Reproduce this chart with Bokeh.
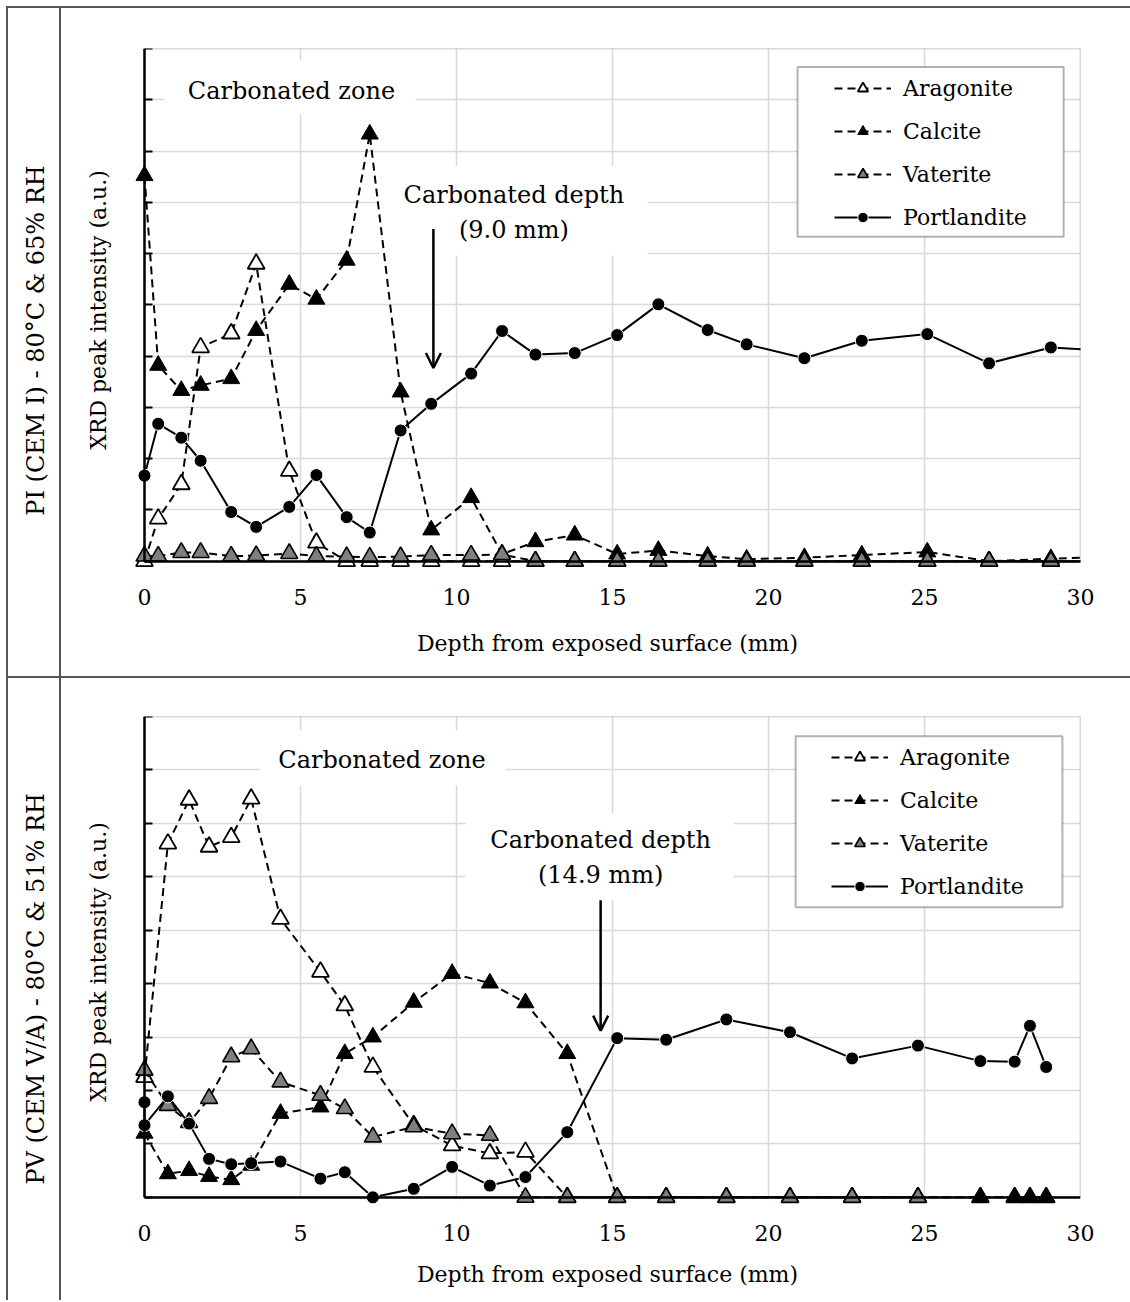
import math
from bokeh.plotting import figure
from bokeh.models import (Range1d, FixedTicker, Legend, LegendItem, BoxAnnotation,
                          Label, Arrow, OpenHead, Spacer, LinearAxis)
from bokeh.layouts import column, row
from bokeh.embed import file_html
from bokeh.resources import INLINE

FONT = "DejaVu Serif"
X_TICKS = [0, 5, 10, 15, 20, 25, 30]
SERIES = ["Aragonite", "Calcite", "Vaterite", "Portlandite"]

# ---------------- PI (CEM I) - 80°C & 65% RH ----------------
pi_depth = [0, 0.44, 1.18, 1.80, 2.78, 3.58, 4.64, 5.51, 6.48, 7.22, 8.21, 9.19, 10.47,
            11.46, 12.53, 13.79, 15.15, 16.47, 18.05, 19.30, 21.15, 22.99, 25.09, 27.07,
            29.05, 30.5]
pi_aragonite = [0, 0.83, 1.50, 4.17, 4.44, 5.80, 1.76, 0.36, 0, 0, 0, 0, 0,
                0, 0, 0, 0, 0, 0, 0, 0, 0, 0, 0, 0, 0]
pi_calcite = [7.52, 3.82, 3.33, 3.43, 3.56, 4.50, 5.40, 5.11, 5.87, 8.33, 3.30, 0.61, 1.24,
              0.14, 0.38, 0.51, 0.14, 0.21, 0.10, 0.04, 0.07, 0.12, 0.18, 0.00, 0.05, 0.08]
pi_vaterite = [0.10, 0.10, 0.17, 0.17, 0.10, 0.11, 0.15, 0.10, 0.09, 0.08, 0.09, 0.12, 0.12,
               0.13, 0, 0, 0, 0, 0, 0, 0, 0, 0, 0, 0, 0]
pi_portlandite = [1.67, 2.68, 2.41, 1.96, 0.96, 0.67, 1.06, 1.68, 0.86, 0.56, 2.55, 3.07, 3.66,
                  4.49, 4.03, 4.06, 4.41, 5.01, 4.51, 4.23, 3.96, 4.30, 4.43, 3.86, 4.17, 4.12]

# ---------------- PV (CEM V/A) - 80°C & 51% RH ----------------
pv_depth = [0, 0.75, 1.43, 2.07, 2.78, 3.42, 4.36, 5.64, 6.42, 7.32, 8.63, 9.86, 11.07,
            12.21, 13.55, 15.15, 16.72, 18.65, 20.69, 22.68, 24.79, 26.79, 27.89, 28.38, 28.90]
pv_aragonite = [2.25, 6.62, 7.44, 6.56, 6.74, 7.46, 5.21, 4.22, 3.59, 2.44, 1.35, 0.97, 0.82,
                0.85, 0, 0, 0, 0, 0, 0, 0, 0, 0, 0, 0]
pv_calcite = [1.20, 0.44, 0.50, 0.39, 0.33, 0.60, 1.57, 1.69, 2.69, 3.00, 3.65, 4.19, 4.01,
              3.64, 2.69, 0, 0, 0, 0, 0, 0, 0, 0, 0, 0]
pv_vaterite_depth = [0, 0.75, 1.43, 2.07, 2.78, 3.42, 4.36, 5.64, 6.42, 7.32, 8.63, 9.86,
                     11.07, 12.21, 13.55, 15.15, 16.72, 18.65, 20.69, 22.68, 24.79]
pv_vaterite = [2.38, 1.72, 1.40, 1.85, 2.63, 2.78, 2.16, 1.91, 1.66, 1.13, 1.32, 1.19, 1.16,
               0, 0, 0, 0, 0, 0, 0, 0]
pv_portlandite_depth = [0, 0, 0.75, 1.43, 2.07, 2.78, 3.42, 4.36, 5.64, 6.42, 7.32, 8.63, 9.86,
                        11.07, 12.21, 13.55, 15.15, 16.72, 18.65, 20.69, 22.68, 24.79, 26.79,
                        27.89, 28.38, 28.90]
pv_portlandite = [1.78, 1.35, 1.89, 1.38, 0.72, 0.62, 0.64, 0.67, 0.35, 0.47, 0.00, 0.16, 0.57,
                  0.22, 0.38, 1.22, 2.98, 2.95, 3.33, 3.09, 2.60, 2.84, 2.55, 2.54, 3.21, 2.44]

row_labels = ["PI (CEM I) - 80°C & 65% RH", "PV (CEM V/A) - 80°C & 51% RH"]
depth_texts = ["(9.0 mm)", "(14.9 mm)"]


def make_chart(height, ymax, ext_y, border_top, border_bottom, data, cfg):
    p = figure(width=1069, height=height, output_backend="svg", toolbar_location=None,
               x_range=Range1d(-0.32, 30), y_range=Range1d(-ext_y, ymax),
               min_border_left=73, min_border_right=50,
               min_border_top=border_top, min_border_bottom=border_bottom)
    p.background_fill_color = "white"
    p.border_fill_color = "white"
    p.outline_line_color = None
    y_ticks = list(range(ymax + 1))

    # grid
    p.xgrid.ticker = FixedTicker(ticks=X_TICKS)
    p.ygrid.ticker = FixedTicker(ticks=y_ticks)
    for g in (p.xgrid, p.ygrid):
        g.grid_line_color = "#d9d9d9"
        g.grid_line_width = 1.5

    # white strips outside the data area (markers may overflow there)
    p.add_layout(BoxAnnotation(right=0, fill_color="white", fill_alpha=1, line_alpha=0,
                               level="underlay"))
    p.add_layout(BoxAnnotation(top=0, fill_color="white", fill_alpha=1, line_alpha=0,
                               level="underlay"))
    # frame border
    p.add_layout(BoxAnnotation(left=0, right=30, bottom=0, top=ymax, fill_alpha=0,
                               line_color="black", line_width=1.5, level="underlay"))
    # white boxes behind the annotation texts
    for (l, r, b, t) in cfg["boxes"]:
        p.add_layout(BoxAnnotation(left=l, right=r, bottom=b, top=t, fill_color="white",
                                   fill_alpha=1, line_alpha=0, level="underlay"))
    # legend frame
    l, r, b, t = cfg["legend_box"]
    p.add_layout(BoxAnnotation(left=l, right=r, bottom=b, top=t, fill_color="white",
                               fill_alpha=1, line_color="black", line_width=2,
                               level="underlay"))

    # label axes (at the frame edge)
    p.xaxis.ticker = FixedTicker(ticks=X_TICKS)
    p.yaxis.ticker = FixedTicker(ticks=y_ticks)
    for ax in (p.xaxis, p.yaxis):
        ax.axis_line_color = None
        ax.major_tick_line_color = None
        ax.minor_tick_line_color = None
        ax.major_tick_in = 0
        ax.major_tick_out = 0
        ax.axis_label_text_font = FONT
        ax.axis_label_text_font_size = "22px"
        ax.axis_label_text_font_style = "normal"
        ax.axis_label_text_color = "black"
        ax.major_label_text_font = FONT
        ax.major_label_text_font_size = "22px"
        ax.major_label_text_color = "black"
    p.xaxis.major_label_standoff = cfg["tick_standoff"]
    p.xaxis.axis_label_standoff = cfg["label_standoff"]
    p.xaxis.axis_label = "Depth from exposed surface (mm)"
    p.yaxis.major_label_text_font_size = "1px"
    p.yaxis.major_label_text_color = None
    p.yaxis.major_label_standoff = 0
    p.yaxis.axis_label_standoff = 24
    p.yaxis.axis_label = "XRD peak intensity (a.u.)"

    # axis lines at the data origin
    xa = LinearAxis(fixed_location=0, bounds=(0, 30), ticker=FixedTicker(ticks=X_TICKS),
                    axis_line_color="black", axis_line_width=2.5,
                    major_tick_line_color=None, minor_tick_line_color=None,
                    major_tick_in=0, major_tick_out=0,
                    major_label_text_font_size="1px", major_label_text_color=None,
                    major_label_standoff=0)
    p.add_layout(xa, "below")
    ya = LinearAxis(fixed_location=0, bounds=(0, ymax), ticker=FixedTicker(ticks=y_ticks),
                    axis_line_color="black", axis_line_width=2.5,
                    major_tick_line_color="black", major_tick_line_width=2,
                    major_tick_in=8, major_tick_out=0, minor_tick_line_color=None,
                    major_label_text_font_size="1px", major_label_text_color=None,
                    major_label_standoff=0)
    p.add_layout(ya, "left")

    d, ara, cal, vd, vat, pd_, por = data
    dash = "8 5"
    la = p.line(d, ara, line_color="black", line_width=2, line_dash=dash)
    sa = p.scatter(d, ara, marker="triangle", size=17, fill_color="white",
                   line_color="black", line_width=1.8)
    lc = p.line(d, cal, line_color="black", line_width=2, line_dash=dash)
    sc = p.scatter(d, cal, marker="triangle", size=17, fill_color="black",
                   line_color="black", line_width=1)
    lv = p.line(vd, vat, line_color="black", line_width=2, line_dash=dash)
    sv = p.scatter(vd, vat, marker="triangle", size=17, fill_color="#7f7f7f",
                   line_color="black", line_width=1.6)
    lp = p.line(pd_, por, line_color="black", line_width=2)
    sp = p.scatter(pd_, por, marker="circle", size=13, fill_color="black",
                   line_color="white", line_width=1)

    # annotations
    zx, zy = cfg["zone_xy"]
    p.add_layout(Label(x=zx, y=zy, text="Carbonated zone", text_align="center",
                       text_baseline="middle", text_font=FONT, text_font_size="24px",
                       text_color="black"))
    dx, dy1, dy2 = cfg["depth_xy"]
    p.add_layout(Label(x=dx, y=dy1, text="Carbonated depth", text_align="center",
                       text_baseline="middle", text_font=FONT, text_font_size="24px",
                       text_color="black"))
    p.add_layout(Label(x=dx, y=dy2, text=cfg["depth_text"], text_align="center",
                       text_baseline="middle", text_font=FONT, text_font_size="24px",
                       text_color="black"))
    ax_, ay0, ay1 = cfg["arrow"]
    p.add_layout(Arrow(end=OpenHead(size=15, line_width=2.5, line_color="black"),
                       x_start=ax_, y_start=ay0, x_end=ax_, y_end=ay1,
                       line_color="black", line_width=2.5))

    items = [LegendItem(label=SERIES[0], renderers=[la, sa]),
             LegendItem(label=SERIES[1], renderers=[lc, sc]),
             LegendItem(label=SERIES[2], renderers=[lv, sv]),
             LegendItem(label=SERIES[3], renderers=[lp, sp])]
    leg = Legend(items=items, location=cfg["legend_loc"], padding=0, spacing=17,
                 glyph_width=57, glyph_height=26, label_height=26, label_standoff=12,
                 label_text_font=FONT, label_text_font_size="22px",
                 label_text_color="black",
                 border_line_alpha=0, background_fill_alpha=0, margin=0)
    p.add_layout(leg)
    return p


def make_label_fig(height, text, ylab):
    f = figure(width=51, height=height, output_backend="svg", toolbar_location=None,
               x_range=Range1d(0, 51), y_range=Range1d(0, height),
               x_axis_type=None, y_axis_type=None, min_border=0)
    f.grid.visible = False
    f.outline_line_color = None
    f.background_fill_color = "white"
    f.border_fill_color = "white"
    f.add_layout(Label(x=27, y=ylab, text=text, angle=math.pi / 2, text_align="center",
                       text_baseline="middle", text_font=FONT, text_font_size="24px",
                       text_color="black"))
    return f


top_cfg = dict(
    boxes=[(0.64, 8.69, 8.72, 9.76), (7.53, 16.12, 5.96, 7.71)],
    legend_box=(20.93, 29.46, 6.33, 9.64),
    zone_xy=(4.71, 9.18),
    depth_xy=(11.84, 7.14, 6.46),
    depth_text=depth_texts[0],
    arrow=(9.26, 6.48, 3.77),
    legend_loc=(700, 341),
    tick_standoff=17,
    label_standoff=23,
)
bot_cfg = dict(
    boxes=[(3.69, 11.57, 7.71, 8.74), (10.29, 18.88, 5.56, 7.19)],
    legend_box=(20.87, 29.42, 5.43, 8.63),
    zone_xy=(7.61, 8.18),
    depth_xy=(14.62, 6.68, 6.03),
    depth_text=depth_texts[1],
    arrow=(14.62, 5.56, 3.12),
    legend_loc=(697, 308),
    tick_standoff=17,
    label_standoff=18,
)

H1, H2 = 668, 622
p1 = make_chart(H1, 10, 0.2, 40, 105,
                (pi_depth, pi_aragonite, pi_calcite, pi_depth, pi_vaterite,
                 pi_depth, pi_portlandite), top_cfg)
p2 = make_chart(H2, 9, 0.19, 38, 93,
                (pv_depth, pv_aragonite, pv_calcite, pv_vaterite_depth, pv_vaterite,
                 pv_portlandite_depth, pv_portlandite), bot_cfg)
l1 = make_label_fig(H1, row_labels[0], 295)
l2 = make_label_fig(H2, row_labels[1], 277)

LINE = {"background-color": "#555555"}
W = 2 + 51 + 2 + 1069
table = column(
    Spacer(width=W, height=2, styles=LINE),
    row(Spacer(width=2, height=H1, styles=LINE), l1, Spacer(width=2, height=H1, styles=LINE), p1),
    Spacer(width=W, height=2, styles=LINE),
    row(Spacer(width=2, height=H2, styles=LINE), l2, Spacer(width=2, height=H2, styles=LINE), p2),
)
layout = row(Spacer(width=6, height=10), column(Spacer(width=10, height=6), table))

open("out.html", "w").write(file_html(layout, INLINE))
